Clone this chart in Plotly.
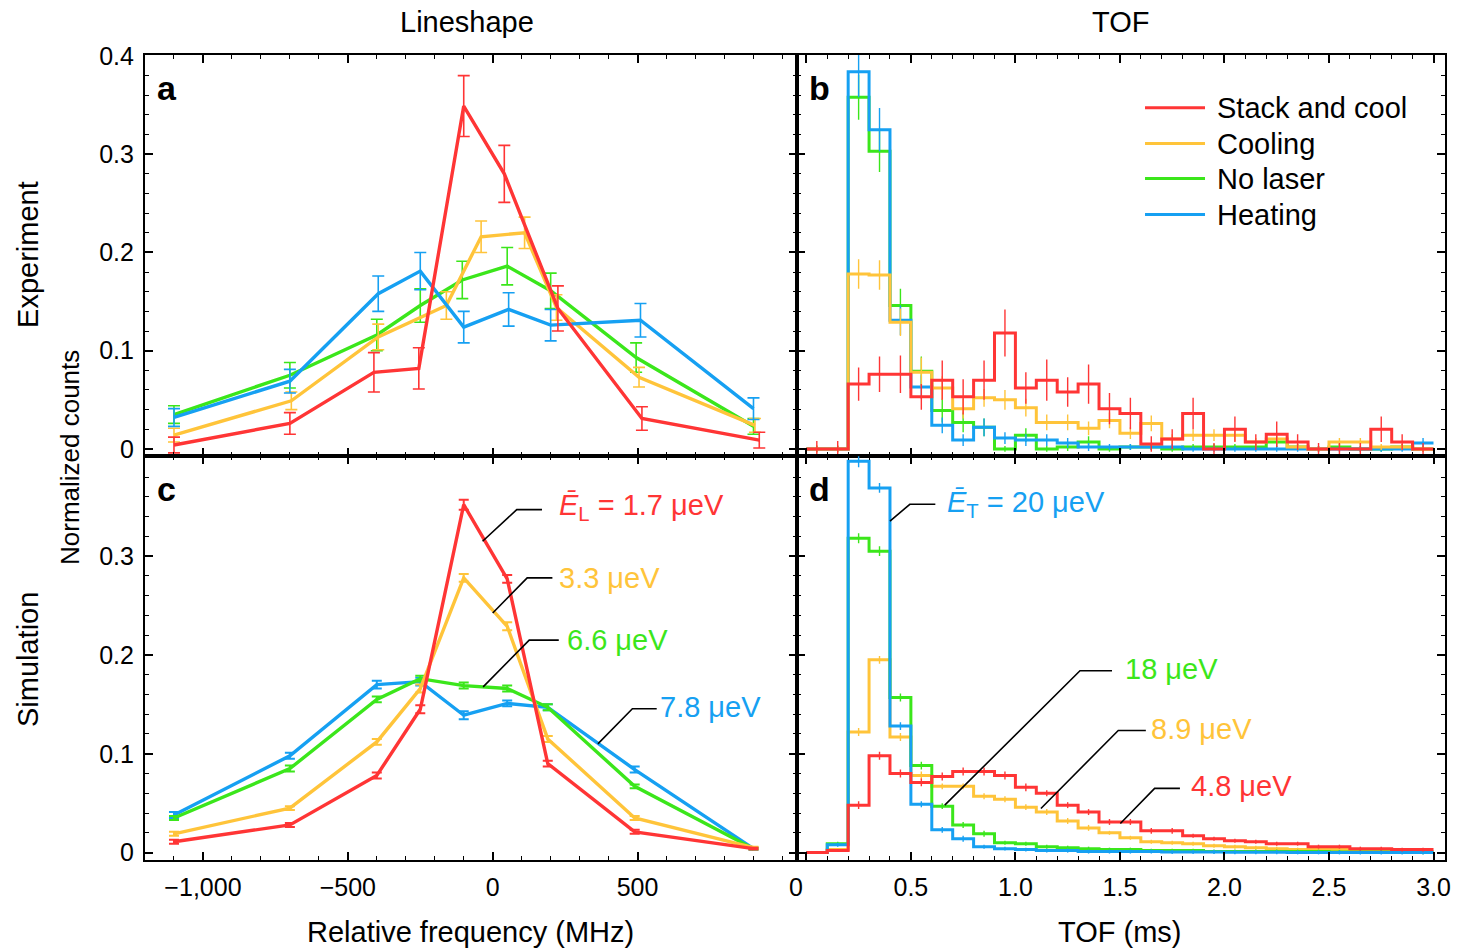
import plotly.graph_objects as go

# ---------------- data ----------------
# Panel a (experiment lineshape)
freq_a_red = [-1100, -700, -410, -255, -100, 40, 225, 515, 920]
a_red = [0.004, 0.026, 0.078, 0.082, 0.349, 0.280, 0.143, 0.031, 0.009]
a_red_err = [0.008, 0.011, 0.020, 0.021, 0.031, 0.029, 0.023, 0.012, 0.008]
freq_a_yellow = [-1100, -695, -395, -160, -40, 110, 220, 505, 905]
a_yellow = [0.014, 0.049, 0.114, 0.146, 0.216, 0.220, 0.144, 0.073, 0.024]
a_yellow_err = [0.007, 0.009, 0.013, 0.014, 0.016, 0.016, 0.013, 0.010, 0.007]
freq_a_green = [-1100, -700, -400, -250, -105, 50, 200, 495, 900]
a_green = [0.035, 0.075, 0.116, 0.146, 0.172, 0.186, 0.161, 0.093, 0.023]
a_green_err = [0.009, 0.013, 0.016, 0.017, 0.019, 0.019, 0.018, 0.015, 0.008]
freq_a_blue = [-1100, -700, -395, -250, -100, 55, 200, 510, 900]
a_blue = [0.032, 0.069, 0.158, 0.181, 0.124, 0.142, 0.126, 0.131, 0.041]
a_blue_err = [0.009, 0.012, 0.018, 0.019, 0.016, 0.017, 0.016, 0.017, 0.011]

# Panel c (simulated lineshape)
freq_c = [-1100, -700, -400, -250, -100, 50, 190, 490, 900]
c_red = [0.011, 0.028, 0.078, 0.145, 0.352, 0.277, 0.090, 0.021, 0.004]
c_red_err = [0.002, 0.002, 0.003, 0.004, 0.005, 0.004, 0.003, 0.002, 0.001]
c_yellow = [0.019, 0.045, 0.112, 0.166, 0.278, 0.229, 0.115, 0.035, 0.005]
c_yellow_err = [0.002, 0.002, 0.003, 0.004, 0.004, 0.004, 0.003, 0.002, 0.001]
c_green = [0.035, 0.085, 0.155, 0.176, 0.169, 0.166, 0.147, 0.067, 0.004]
c_green_err = [0.002, 0.003, 0.003, 0.003, 0.003, 0.003, 0.003, 0.002, 0.001]
c_blue = [0.038, 0.098, 0.170, 0.173, 0.139, 0.151, 0.147, 0.084, 0.004]
c_blue_err = [0.003, 0.003, 0.004, 0.004, 0.004, 0.003, 0.003, 0.003, 0.001]

# TOF histograms: 30 bins of 0.1 ms from 0 to 3.0 ms
tof_edges = [round(0.1 * i, 1) for i in range(31)]
tof_centers = [round(0.1 * i + 0.05, 2) for i in range(30)]

# Panel b (experiment TOF)
b_red = [0, 0, 0.066, 0.076, 0.076, 0.053, 0.070, 0.053, 0.070, 0.118, 0.062, 0.070, 0.058, 0.066, 0.041,
         0.036, 0.005, 0.010, 0.036, 0, 0.020, 0.007, 0.015, 0.007, 0, 0, 0, 0.020, 0.007, 0]
b_red_err = [0.008, 0.008, 0.017, 0.018, 0.019, 0.013, 0.020, 0.018, 0.020, 0.024, 0.016, 0.021, 0.015, 0.020, 0.016,
             0.016, 0.008, 0.010, 0.016, 0.006, 0.013, 0.008, 0.013, 0.008, 0.006, 0.006, 0.006, 0.013, 0.008, 0.006]
b_yellow = [0, 0, 0.178, 0.177, 0.129, 0.078, 0.062, 0.041, 0.052, 0.050, 0.042, 0.027, 0.027, 0.021, 0.029,
            0.016, 0.026, 0.010, 0.014, 0.014, 0.014, 0.007, 0.010, 0.002, 0, 0.007, 0.007, 0.002, 0.002, 0]
b_yellow_err = [0.004, 0.004, 0.015, 0.015, 0.014, 0.015, 0.012, 0.010, 0.009, 0.010, 0.009, 0.008, 0.008, 0.007, 0.008,
                0.006, 0.008, 0.005, 0.006, 0.006, 0.006, 0.004, 0.005, 0.003, 0.003, 0.004, 0.004, 0.003, 0.003, 0.003]
b_green = [0, 0, 0.358, 0.303, 0.146, 0.079, 0.039, 0.027, 0.022, 0, 0.014, 0, 0.002, 0.007, 0,
           0.002, 0.002, 0, 0.002, 0.002, 0.002, 0.002, 0.007, 0.002, 0, 0.002, 0, 0, 0.002, 0]
b_green_err = [0.003, 0.003, 0.023, 0.021, 0.017, 0.015, 0.012, 0.010, 0.009, 0.003, 0.007, 0.003, 0.004, 0.006, 0.003,
               0.003, 0.003, 0.003, 0.003, 0.003, 0.003, 0.003, 0.005, 0.003, 0.003, 0.003, 0.003, 0.003, 0.003, 0.003]
b_blue = [0, 0, 0.384, 0.325, 0.131, 0.063, 0.024, 0.009, 0.022, 0.011, 0.009, 0.009, 0.006, 0.002, 0.002,
          0.002, 0.002, 0.002, 0, 0, 0, 0, 0, 0, 0, 0, 0, 0, 0, 0.006]
b_blue_err = [0.003, 0.003, 0.026, 0.022, 0.015, 0.012, 0.008, 0.006, 0.009, 0.006, 0.006, 0.006, 0.005, 0.004, 0.003,
              0.003, 0.003, 0.003, 0.003, 0.003, 0.003, 0.003, 0.003, 0.003, 0.003, 0.003, 0.003, 0.003, 0.003, 0.005]

# Panel d (simulated TOF)
d_red = [0, 0.002, 0.048, 0.098, 0.080, 0.071, 0.077, 0.082, 0.082, 0.078, 0.066, 0.060, 0.048, 0.041, 0.031,
         0.031, 0.022, 0.022, 0.017, 0.014, 0.012, 0.011, 0.009, 0.009, 0.006, 0.006, 0.004, 0.004, 0.003, 0.003]
d_yellow = [0, 0.003, 0.122, 0.195, 0.117, 0.078, 0.067, 0.067, 0.057, 0.054, 0.046, 0.041, 0.032, 0.025, 0.020,
            0.015, 0.011, 0.010, 0.009, 0.007, 0.006, 0.005, 0.004, 0.003, 0.003, 0.003, 0.002, 0.002, 0.002, 0.001]
d_green = [0, 0.009, 0.318, 0.305, 0.157, 0.088, 0.047, 0.028, 0.019, 0.010, 0.009, 0.006, 0.005, 0.004, 0.003,
           0.003, 0.002, 0.002, 0.002, 0.001, 0.001, 0.001, 0.001, 0.001, 0.001, 0.0005, 0.0005, 0.0005, 0.0005, 0.0003]
d_blue = [0, 0.008, 0.396, 0.369, 0.128, 0.049, 0.023, 0.014, 0.006, 0.004, 0.003, 0.002, 0.002, 0.001, 0.001,
          0.001, 0.001, 0.0005, 0.0005, 0.0005, 0.0003, 0.0003, 0.0003, 0.0002, 0.0002, 0.0002, 0.0001, 0.0001, 0.0001, 0.0001]
d_err_red = [0.001, 0.001, 0.004, 0.004, 0.004, 0.004, 0.004, 0.004, 0.004, 0.004, 0.004, 0.003, 0.003, 0.003, 0.003,
             0.003, 0.003, 0.003, 0.002, 0.002, 0.002, 0.002, 0.002, 0.002, 0.002, 0.002, 0.002, 0.002, 0.002, 0.002]
d_err_yellow = [0.001, 0.001, 0.004, 0.004, 0.004, 0.004, 0.003, 0.003, 0.003, 0.003, 0.003, 0.003, 0.003, 0.003, 0.002,
                0.002, 0.002, 0.002, 0.002, 0.002, 0.002, 0.002, 0.002, 0.002, 0.002, 0.002, 0.002, 0.002, 0.002, 0.002]
d_err_green = [0.001, 0.002, 0.005, 0.005, 0.004, 0.004, 0.003, 0.003, 0.003, 0.002, 0.002, 0.002, 0.002, 0.002, 0.002,
               0.002, 0.002, 0.002, 0.002, 0.002, 0.002, 0.002, 0.002, 0.002, 0.002, 0.002, 0.002, 0.002, 0.002, 0.002]
d_err_blue = [0.001, 0.002, 0.006, 0.005, 0.004, 0.003, 0.003, 0.003, 0.002, 0.002, 0.002, 0.002, 0.002, 0.002, 0.002,
              0.002, 0.002, 0.002, 0.002, 0.002, 0.002, 0.002, 0.002, 0.002, 0.002, 0.002, 0.002, 0.002, 0.002, 0.002]

legend_names = ["Stack and cool", "Cooling", "No laser", "Heating"]
freq_tickvals = [-1000, -500, 0, 500]
freq_ticktext = ["\u22121,000", "\u2212500", "0", "500"]
tof_tickvals = [0, 0.5, 1.0, 1.5, 2.0, 2.5, 3.0]
tof_ticktext = ["0\u00a0\u00a0\u00a0", "0.5", "1.0", "1.5", "2.0", "2.5", "3.0"]

# ---------------- style ----------------
RED = "#FF3535"
YEL = "#FFC43A"
GRN = "#3BE61B"
BLU = "#16A0F2"
FONT = "Liberation Sans"

fig = go.Figure()


def line_err(x, y, err, color, xa, ya, lw=3.4, capw=6, thick=1.6):
    fig.add_trace(go.Scatter(
        x=x, y=y, mode="lines", xaxis=xa, yaxis=ya, showlegend=False,
        line=dict(color=color, width=lw),
        error_y=dict(type="data", array=err, visible=True, color=color,
                     thickness=thick, width=capw)))


def hist_err(y, err, color, xa, ya, lw=3.0):
    fig.add_trace(go.Scatter(
        x=tof_edges, y=list(y) + [y[-1]], mode="lines", line_shape="hv",
        xaxis=xa, yaxis=ya, showlegend=False,
        line=dict(color=color, width=lw)))
    fig.add_trace(go.Scatter(
        x=tof_centers, y=y, mode="markers", xaxis=xa, yaxis=ya, showlegend=False,
        marker=dict(size=1, color=color, opacity=0),
        error_y=dict(type="data", array=err, visible=True, color=color,
                     thickness=1.4, width=0)))


# panel a
line_err(freq_a_green, a_green, a_green_err, GRN, "x", "y")
line_err(freq_a_yellow, a_yellow, a_yellow_err, YEL, "x", "y")
line_err(freq_a_blue, a_blue, a_blue_err, BLU, "x", "y")
line_err(freq_a_red, a_red, a_red_err, RED, "x", "y")

# panel b
hist_err(b_green, b_green_err, GRN, "x2", "y2")
hist_err(b_blue, b_blue_err, BLU, "x2", "y2")
hist_err(b_yellow, b_yellow_err, YEL, "x2", "y2")
hist_err(b_red, b_red_err, RED, "x2", "y2")

# panel c
line_err(freq_c, c_blue, c_blue_err, BLU, "x3", "y3", capw=5, thick=2)
line_err(freq_c, c_green, c_green_err, GRN, "x3", "y3", capw=5, thick=2)
line_err(freq_c, c_yellow, c_yellow_err, YEL, "x3", "y3", capw=5, thick=2)
line_err(freq_c, c_red, c_red_err, RED, "x3", "y3", capw=5, thick=2)

# panel d
hist_err(d_yellow, d_err_yellow, YEL, "x4", "y4")
hist_err(d_green, d_err_green, GRN, "x4", "y4")
hist_err(d_blue, d_err_blue, BLU, "x4", "y4")
hist_err(d_red, d_err_red, RED, "x4", "y4")

# ---------------- axes ----------------
XSPLIT = 0.5015
YSPLIT = 0.5015
YR = [-0.0075, 0.401]
TICKSIZE = 25


def axis(**kw):
    base = dict(showline=True, linewidth=2.2, linecolor="black", mirror="allticks",
                ticks="inside", ticklen=8, tickwidth=1.6, tickcolor="black",
                showgrid=False, zeroline=False,
                tickfont=dict(size=TICKSIZE, family=FONT, color="black"))
    base.update(kw)
    return base


minor_y = dict(ticks="inside", ticklen=4, tickwidth=1.2, tickcolor="black", dtick=0.02, tick0=0, showgrid=False)
minor_f = dict(ticks="inside", ticklen=4, tickwidth=1.2, tickcolor="black", dtick=100, tick0=0, showgrid=False)
minor_t = dict(ticks="inside", ticklen=4, tickwidth=1.2, tickcolor="black", dtick=0.1, tick0=0, showgrid=False)

fig.update_layout(
    xaxis=axis(domain=[0, XSPLIT], anchor="y", range=[-1200, 1050], tickmode="array",
               tickvals=freq_tickvals, ticktext=freq_ticktext, showticklabels=False, minor=minor_f),
    yaxis=axis(domain=[YSPLIT, 1], anchor="x", range=YR, tickmode="array",
               tickvals=[0, 0.1, 0.2, 0.3, 0.4], ticktext=["0", "0.1", "0.2", "0.3", "0.4"],
               ticklabelstandoff=4, minor=minor_y),
    xaxis2=axis(domain=[XSPLIT, 1], anchor="y2", range=[-0.045, 3.055], tickmode="array",
                tickvals=tof_tickvals, ticktext=tof_ticktext, showticklabels=False, minor=minor_t),
    yaxis2=axis(domain=[YSPLIT, 1], anchor="x2", range=YR, tickmode="array",
                tickvals=[0, 0.1, 0.2, 0.3, 0.4], showticklabels=False, minor=minor_y),
    xaxis3=axis(domain=[0, XSPLIT], anchor="y3", range=[-1200, 1050], tickmode="array",
                tickvals=freq_tickvals, ticktext=freq_ticktext, minor=minor_f, ticklabelstandoff=4),
    yaxis3=axis(domain=[0, YSPLIT], anchor="x3", range=YR, tickmode="array",
                tickvals=[0, 0.1, 0.2, 0.3], ticktext=["0", "0.1", "0.2", "0.3"],
                ticklabelstandoff=4, minor=minor_y),
    xaxis4=axis(domain=[XSPLIT, 1], anchor="y4", range=[-0.045, 3.055], tickmode="array",
                tickvals=tof_tickvals, ticktext=tof_ticktext, minor=minor_t, ticklabelstandoff=4),
    yaxis4=axis(domain=[0, YSPLIT], anchor="x4", range=YR, tickmode="array",
                tickvals=[0, 0.1, 0.2, 0.3, 0.4], showticklabels=False, minor=minor_y),
)

# ---------------- annotations ----------------
ann = []


def text(x, y, s, size=29, color="black", xref="paper", yref="paper", xanchor="center",
         yanchor="middle", angle=0):
    ann.append(dict(x=x, y=y, text=s, xref=xref, yref=yref, xanchor=xanchor, yanchor=yanchor,
                    showarrow=False, textangle=angle,
                    font=dict(family=FONT, size=size, color=color)))


# column / row titles
text(0.2477, 1.041, "Lineshape")
text(0.75, 1.041, "TOF")
text(0.25, -0.0894, "Relative frequency (MHz)")
text(0.75, -0.0894, "TOF (ms)")
text(-0.0577, 0.5006, "Normalized counts", size=26, angle=-90)
text(-0.09, 0.7516, "Experiment", angle=-90)
text(-0.09, 0.2484, "Simulation", angle=-90)

# panel letters
text(0.0169, 0.959, "<b>a</b>", size=34)
text(0.519, 0.959, "<b>b</b>", size=34)
text(0.0169, 0.4609, "<b>c</b>", size=34)
text(0.519, 0.4609, "<b>d</b>", size=34)

# legend (panel b)
legend_colors = [RED, YEL, GRN, BLU]
legend_y = [0.3474, 0.3108, 0.2752, 0.2386]
shapes = []
for name, col, yy in zip(legend_names, legend_colors, legend_y):
    shapes.append(dict(type="line", xref="x2", yref="y2", x0=1.62, x1=1.907, y0=yy, y1=yy,
                       line=dict(color=col, width=3)))
    text(1.955, yy, name, size=29, xref="x2", yref="y2", xanchor="left")

# callouts panel c
callouts_c = [
    ((-35, 0.315), (83, 0.347), (170, 0.347), 221, 0.350,
     "<i>Ē</i><sub>L</sub> = 1.7 μeV", RED),
    ((0, 0.2424), (119, 0.278), (206, 0.278), 221, 0.278, "3.3 μeV", YEL),
    ((-33, 0.1677), (126, 0.215), (228, 0.215), 249, 0.215, "6.6 μeV", GRN),
    ((363, 0.110), (482, 0.1456), (566, 0.1456), 572, 0.1475, "7.8 μeV", BLU),
]
for p0, p1, p2, tx, ty, s, col in callouts_c:
    shapes.append(dict(type="path", xref="x3", yref="y3",
                       path=f"M {p0[0]},{p0[1]} L {p1[0]},{p1[1]} L {p2[0]},{p2[1]}",
                       line=dict(color="black", width=1.6)))
    text(tx, ty, s, size=29, color=col, xref="x3", yref="y3", xanchor="left")

# callouts panel d
callouts_d = [
    ((0.40, 0.3355), (0.495, 0.3524), (0.617, 0.3524), 0.662, 0.353,
     "<i>Ē</i><sub>T</sub> = 20 μeV", BLU),
    ((0.662, 0.048), (1.309, 0.184), (1.462, 0.184), 1.513, 0.186, "18 μeV", GRN),
    ((1.122, 0.0446), (1.492, 0.1236), (1.624, 0.1236), 1.639, 0.1255, "8.9 μeV", YEL),
    ((1.502, 0.0294), (1.666, 0.065), (1.787, 0.065), 1.828, 0.067, "4.8 μeV", RED),
]
for p0, p1, p2, tx, ty, s, col in callouts_d:
    shapes.append(dict(type="path", xref="x4", yref="y4",
                       path=f"M {p0[0]},{p0[1]} L {p1[0]},{p1[1]} L {p2[0]},{p2[1]}",
                       line=dict(color="black", width=1.6)))
    text(tx, ty, s, size=29, color=col, xref="x4", yref="y4", xanchor="left")

fig.update_layout(
    width=1470, height=950,
    margin=dict(l=145, r=25, t=55, b=90),
    paper_bgcolor="white", plot_bgcolor="white",
    showlegend=False, hovermode=False,
    annotations=ann, shapes=shapes,
    font=dict(family=FONT, color="black"),
)

# remove the browser's default body margin so the 1470x950 figure fills the window exactly
fig.write_html("out.html",
               config={"displayModeBar": False},
               post_script="document.body.style.margin='0px';document.body.style.overflow='hidden';")
